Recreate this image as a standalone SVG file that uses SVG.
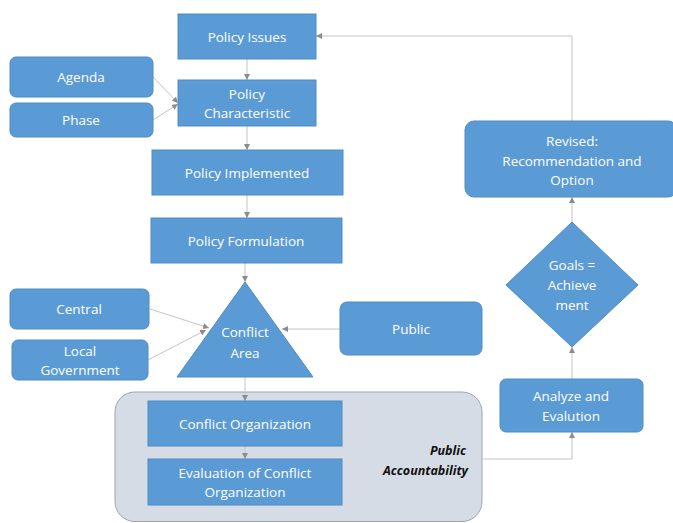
<svg xmlns="http://www.w3.org/2000/svg" width="673" height="523" viewBox="0 0 673 523">
<defs>
<style>
.n{fill:#5b9bd5;stroke:#4f8cc4;stroke-width:1}
.t{font-family:"Open Sans","Liberation Sans",sans-serif;font-size:13.5px;fill:#ffffff;text-anchor:middle;dominant-baseline:central}
.c{fill:none;stroke:#c4c4c4;stroke-width:1}
.pa{font-family:"Open Sans","Liberation Sans",sans-serif;font-size:12.5px;font-weight:bold;font-style:italic;fill:#111;text-anchor:end}
</style>
<marker id="ah" viewBox="0 0 6 6" refX="6" refY="3" markerWidth="6" markerHeight="6" orient="auto" markerUnits="userSpaceOnUse">
<path d="M0,0 L6,3 L0,6 z" fill="#8c8c8c"/>
</marker>
</defs>
<g id="container">
<rect x="115" y="392" width="367" height="129.5" rx="20" fill="#d6dce5" stroke="#9aa5b4" stroke-width="1"/>
<text class="pa" x="466" y="455">Public</text>
<text class="pa" x="468" y="475">Accountability</text>
</g>
<g id="connectors">
<line class="c" x1="247" y1="59" x2="247" y2="80" marker-end="url(#ah)"/>
<line class="c" x1="247" y1="126" x2="247" y2="150" marker-end="url(#ah)"/>
<line class="c" x1="247" y1="195" x2="247" y2="218" marker-end="url(#ah)"/>
<line class="c" x1="245" y1="263" x2="245" y2="282" marker-end="url(#ah)"/>
<line class="c" x1="245" y1="377" x2="245" y2="401" marker-end="url(#ah)"/>
<line class="c" x1="245" y1="446" x2="245" y2="459" marker-end="url(#ah)"/>
<line class="c" x1="153" y1="77" x2="178" y2="103" marker-end="url(#ah)"/>
<line class="c" x1="153" y1="120" x2="178" y2="104" marker-end="url(#ah)"/>
<line class="c" x1="150" y1="309" x2="209" y2="328" marker-end="url(#ah)"/>
<line class="c" x1="148" y1="360" x2="206" y2="330" marker-end="url(#ah)"/>
<line class="c" x1="340" y1="329" x2="282" y2="329" marker-end="url(#ah)"/>
<polyline class="c" points="482,459 572,459 572,432" marker-end="url(#ah)"/>
<line class="c" x1="572" y1="379" x2="572" y2="347" marker-end="url(#ah)"/>
<line class="c" x1="572" y1="222" x2="572" y2="197" marker-end="url(#ah)"/>
<polyline class="c" points="572,121 572,36 316,36" marker-end="url(#ah)"/>
</g>
<g id="policy-issues">
<rect class="n" x="178" y="14" width="138" height="45"/>
<text class="t" x="247" y="37">Policy Issues</text>
</g>
<g id="policy-characteristic">
<rect class="n" x="178" y="80" width="138" height="46"/>
<text class="t" x="247" y="94">Policy</text>
<text class="t" x="247" y="113">Characteristic</text>
</g>
<g id="agenda">
<rect class="n" x="10" y="57" width="143" height="40" rx="6"/>
<text class="t" x="81" y="77">Agenda</text>
</g>
<g id="phase">
<rect class="n" x="10" y="103" width="143" height="34" rx="6"/>
<text class="t" x="81" y="120">Phase</text>
</g>
<g id="policy-implemented">
<rect class="n" x="152" y="150" width="191" height="45"/>
<text class="t" x="247" y="173">Policy Implemented</text>
</g>
<g id="policy-formulation">
<rect class="n" x="151" y="218" width="191" height="45"/>
<text class="t" x="246" y="241">Policy Formulation</text>
</g>
<g id="conflict-area">
<polygon class="n" points="245,282 313,377 177,377"/>
<text class="t" x="245" y="332">Conflict</text>
<text class="t" x="245" y="353">Area</text>
</g>
<g id="central">
<rect class="n" x="10" y="289" width="139" height="40" rx="6"/>
<text class="t" x="79" y="309">Central</text>
</g>
<g id="local-government">
<rect class="n" x="12" y="340" width="136" height="40" rx="6"/>
<text class="t" x="80" y="351">Local</text>
<text class="t" x="80" y="370">Government</text>
</g>
<g id="public">
<rect class="n" x="340" y="302" width="142" height="53" rx="7"/>
<text class="t" x="411" y="329">Public</text>
</g>
<g id="conflict-organization">
<rect class="n" x="148" y="401" width="194" height="45"/>
<text class="t" x="245" y="424">Conflict Organization</text>
</g>
<g id="evaluation">
<rect class="n" x="148" y="459" width="194" height="46"/>
<text class="t" x="245" y="473">Evaluation of Conflict</text>
<text class="t" x="245" y="492">Organization</text>
</g>
<g id="revised">
<rect class="n" x="465" y="121" width="212" height="76" rx="9"/>
<text class="t" x="572" y="141">Revised:</text>
<text class="t" x="572" y="161">Recommendation and</text>
<text class="t" x="572" y="180">Option</text>
</g>
<g id="goals">
<polygon class="n" points="572,222 638,285 572,347 506,285"/>
<text class="t" x="572" y="265">Goals =</text>
<text class="t" x="572" y="285">Achieve</text>
<text class="t" x="572" y="305">ment</text>
</g>
<g id="analyze">
<rect class="n" x="500" y="379" width="143" height="53" rx="6"/>
<text class="t" x="571" y="396">Analyze and</text>
<text class="t" x="571" y="416">Evalution</text>
</g>
</svg>
